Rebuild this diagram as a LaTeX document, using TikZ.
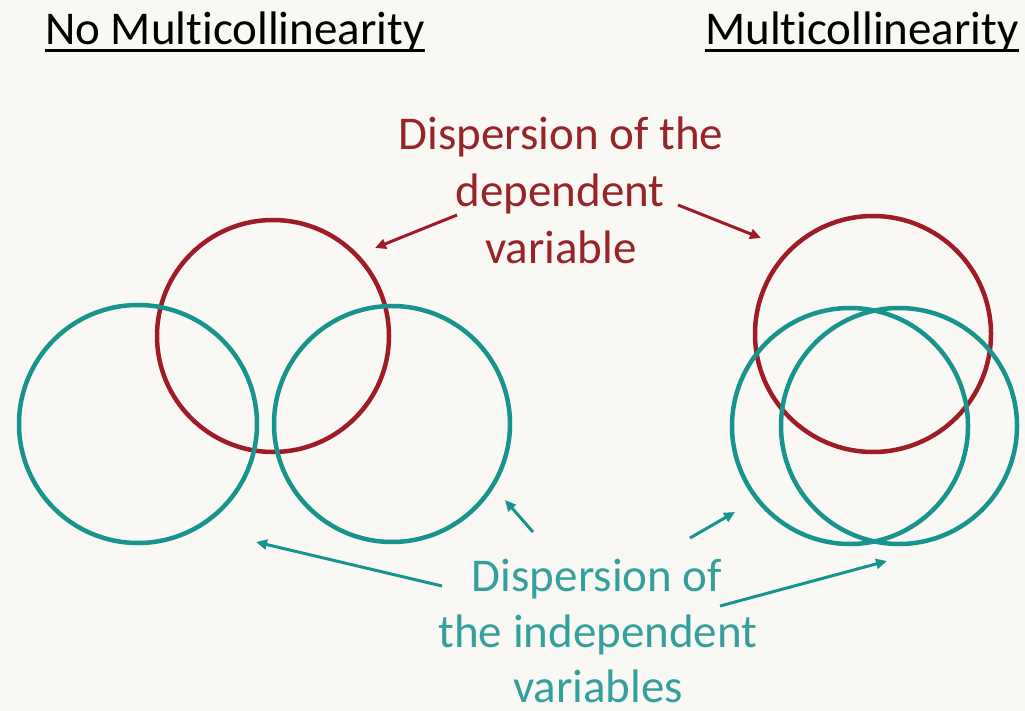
\documentclass[tikz,border=0pt]{standalone}
\usepackage{fontspec}
\setmainfont{Carlito}[Ligatures={NoCommon,NoRare,NoDiscretionary}]
\usetikzlibrary{arrows.meta}
\definecolor{bg}{RGB}{249,248,245}
\definecolor{dred}{RGB}{158,28,38}
\definecolor{tred}{RGB}{150,36,40}
\definecolor{dteal}{RGB}{24,148,142}
\definecolor{tteal}{RGB}{52,160,158}
\tikzset{
  redc/.style={circle,draw=dred,line width=4.5pt,minimum size=#1,inner sep=0pt},
  tealc/.style={circle,draw=dteal,line width=4.5pt,minimum size=#1,inner sep=0pt},
  title/.style={font=\fontsize{47}{56}\selectfont,text=black,inner sep=0pt,anchor=base west},
  redtxt/.style={font=\fontsize{47}{57}\selectfont,text=tred,inner sep=0pt,anchor=base},
  tealtxt/.style={font=\fontsize{47}{57}\selectfont,text=tteal,inner sep=0pt,anchor=base},
  redarr/.style={draw=dred,line width=3pt,-{Triangle[length=11pt,width=10pt]}},
  tealarr/.style={draw=dteal,line width=3pt,-{Triangle[length=11pt,width=10pt]}},
  uline/.style={draw=black,line width=3pt}
}
\begin{document}
\begin{tikzpicture}[x=1pt,y=-1pt]
\fill[bg] (0,0) rectangle (1025,711);
\useasboundingbox (0,0) rectangle (1025,711);
% titles
\node[title] (tl) at (45,45) {No Multicollinearity};
\node[title] (tr) at (705,45) {Multicollinearity};
\draw[uline] ([yshift=-6pt]tl.base west) -- ([yshift=-6pt]tl.base east);
\draw[uline] ([yshift=-6pt]tr.base west) -- ([yshift=-6pt]tr.base east);
% left circles
\node[redc=232pt] (lred) at (273,336) {};
\node[tealc=238pt] (lt1) at (138,424) {};
\node[tealc=236pt] (lt2) at (392,424) {};
% right circles
\node[redc=236pt] (rred) at (873,334) {};
\node[tealc=236pt] (rt1) at (850,426) {};
\node[tealc=236pt] (rt2) at (899,426) {};
% red text
\node[redtxt] (r1) at (561,150) {Dispersion of the};
\node[redtxt] (r2) at (560,207) {dependent};
\node[redtxt] (r3) at (561,264) {variable};
% teal text
\node[tealtxt] (t1) at (597,591) {Dispersion of};
\node[tealtxt] (t2) at (598,647) {the independent};
\node[tealtxt] (t3) at (598,702) {variables};
% arrow end points
\coordinate (ra1) at (457,215);
\coordinate (rh1) at (375,248);
\coordinate (ra2) at (678,205);
\coordinate (rh2) at (761,238);
\coordinate (ta1) at (442,586);
\coordinate (th1) at (256,542);
\coordinate (ta2) at (533,532);
\coordinate (th2) at (505,500);
\coordinate (ta3) at (690,538);
\coordinate (th3) at (735,512);
\coordinate (ta4) at (720,606);
\coordinate (th4) at (887,561);
\draw[redarr] (ra1) -- (rh1);
\draw[redarr] (ra2) -- (rh2);
\draw[tealarr] (ta1) -- (th1);
\draw[tealarr] (ta2) -- (th2);
\draw[tealarr] (ta3) -- (th3);
\draw[tealarr] (ta4) -- (th4);
\end{tikzpicture}
\end{document}
